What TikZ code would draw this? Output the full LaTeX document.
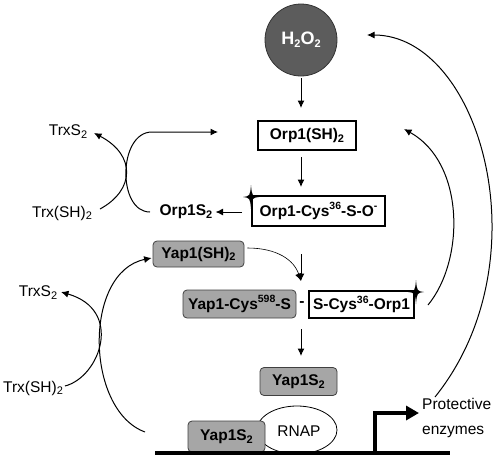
\documentclass[tikz,border=0pt]{standalone}
\usepackage{fontspec}
\setmainfont{Liberation Sans}
\usetikzlibrary{arrows.meta,shapes.geometric}
\definecolor{boxgray}{RGB}{166,166,166}
\definecolor{h2gray}{RGB}{92,92,92}
\newcommand\dn[1]{\raisebox{-0.35ex}{\fontsize{11}{11}\selectfont #1}}
\newcommand\up[1]{\raisebox{0.75ex}{\fontsize{10.5}{10.5}\selectfont #1}}
\begin{document}
\begin{tikzpicture}[x=1pt,y=-1pt,
  wbox/.style={draw, line width=1.5pt, fill=white, inner sep=0pt, font=\bfseries\fontsize{15.5}{18}\selectfont},
  gbox/.style={draw=black!75, fill=boxgray, rounded corners=4pt, line width=0.8pt, inner sep=0pt, font=\bfseries\fontsize{15.5}{18}\selectfont},
  btxt/.style={inner sep=1pt, font=\bfseries\fontsize{15.5}{18}\selectfont},
  rtxt/.style={inner sep=1pt, font=\fontsize{15.5}{18}\selectfont},
  arr/.style={-{Latex[length=7.5pt,width=7pt]}, line width=1pt},
  thinarr/.style={-{Latex[length=7.5pt,width=7pt]}, line width=0.6pt},
  sparkle/.pic={\fill (0,12) .. controls (1,1) .. (8,0) .. controls (1,-1) .. (0,-12) .. controls (-1,-1) .. (-8,0) .. controls (-1,1) .. cycle;}
]
\useasboundingbox (0,0) rectangle (495,458);

% main column
\node[circle, fill=h2gray, draw=black!80, line width=0.8pt, minimum size=72pt, inner sep=0pt, text=white,
      font=\bfseries\fontsize{18}{20}\selectfont] (h2o2) at (301,40) {H\dn{2}O\dn{2}};
\node[wbox, minimum width=98pt, minimum height=29pt] (orpsh) at (307,135.5) {Orp1(SH)\dn{2}};
\node[wbox, minimum width=133pt, minimum height=30pt] (orpcys) at (318.5,211) {Orp1-Cys\up{36}-S-O\up{-}};
\node[btxt] (orps2) at (186,212) {Orp1S\dn{2}};
\node[gbox, minimum width=91pt, minimum height=26pt] (yapsh) at (198.5,254) {Yap1(SH)\dn{2}};
\node[gbox, minimum width=113pt, minimum height=28pt] (yapcys) at (239.5,304) {Yap1-Cys\up{598}-S};
\node[btxt] (dash) at (302,304) {-};
\node[wbox, minimum width=105pt, minimum height=27pt] (scys) at (361.5,304.5) {S-Cys\up{36}-Orp1};
\node[gbox, minimum width=77pt, minimum height=28pt] (yaps2) at (298.5,381.5) {Yap1S\dn{2}};

\pic at (251,197) {sparkle};
\pic at (416,292) {sparkle};

% DNA
\node[draw, ellipse, line width=0.8pt, fill=white, minimum width=80pt, minimum height=48pt, inner sep=0pt] (rnap) at (297,430) {};
\node[rtxt] (rnaptxt) at (299,431) {RNAP};
\node[gbox, minimum width=77pt, minimum height=31pt] (yapdna) at (226.5,436.5) {Yap1S\dn{2}};
\coordinate (dnaL) at (155,453);
\coordinate (dnaR) at (450,453);
\draw[line width=4pt] (dnaL) -- (dnaR);
\coordinate (prom) at (375,453);
\coordinate (promtip) at (419,413);
\draw[line width=4pt, -{Triangle[length=13pt,width=14pt]}] (prom) |- (promtip);
\node[anchor=west, align=left, inner sep=0pt, font=\fontsize{15.5}{25}\selectfont] (prot) at (422,418) {Protective\\enzymes};

% Trx labels
\node[rtxt] (trxs2a) at (68,132) {TrxS\dn{2}};
\node[rtxt] (trxsha) at (62,213) {Trx(SH)\dn{2}};
\node[rtxt] (trxs2b) at (38,293) {TrxS\dn{2}};
\node[rtxt] (trxshb) at (33,388) {Trx(SH)\dn{2}};

% straight arrows
\coordinate (h1s) at (301,78);
\coordinate (h1e) at (301,108);
\draw[arr] (h1s) -- (h1e);
\coordinate (o1s) at (301,157);
\coordinate (o1e) at (301,187);
\draw[arr] (o1s) -- (o1e);
\coordinate (o2s) at (242,212);
\draw[arr] (o2s) -- ([xshift=2pt]orps2.east);
\coordinate (jtop) at (301,254);
\coordinate (jtip) at (301,281);
\draw[arr] (jtop) -- (jtip);
\draw[thinarr] ([xshift=3pt,yshift=6pt]yapsh.east) .. controls (277,248) and (294,260) .. (jtip);
\coordinate (dtop) at (301,329);
\coordinate (dtip) at (301,356);
\draw[arr] (dtop) -- (dtip);

% upper crossing
\coordinate (a1s) at (100,209);
\coordinate (a1e) at (94,133);
\draw[arr] (a1s) .. controls (135,190) and (136,155) .. (a1e);
\coordinate (a2s) at (150,212);
\coordinate (a2m) at (152,132);
\coordinate (a2e) at (218,132);
\draw[arr] (a2s) .. controls (117,212) and (118,132) .. (a2m) -- (a2e);

% lower crossing
\coordinate (b1s) at (65,386);
\coordinate (b1e) at (61,292);
\draw[arr] (b1s) .. controls (100,377) and (124,310) .. (b1e);
\coordinate (b2s) at (145,432);
\draw[arr] (b2s) .. controls (85,410) and (83,272) .. ([xshift=-1pt,yshift=-4pt]yapsh.west);

% right feedback curves
\coordinate (r1s) at (428,305);
\coordinate (r1e) at (404,129);
\draw[arr] (r1s) .. controls (465,260) and (465,163) .. (r1e);
\coordinate (r2s) at (435,397);
\coordinate (r2e) at (367,35);
\draw[arr] (r2s) .. controls (545,260) and (480,35) .. (r2e);
\end{tikzpicture}
\end{document}
